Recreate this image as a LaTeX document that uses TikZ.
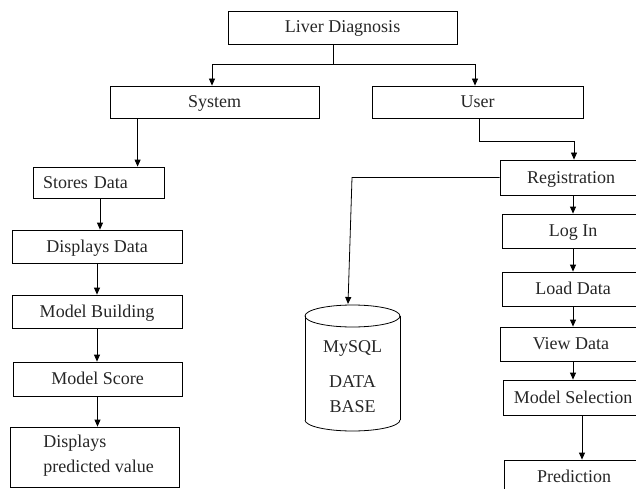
\documentclass[tikz,border=0pt]{standalone}
\usepackage{fontspec}
\setmainfont{Liberation Serif}
\usetikzlibrary{arrows.meta}
\begin{document}
\begin{tikzpicture}[x=1pt,y=-1pt, line width=0.8pt,
  lbl/.style={font=\fontsize{18}{25}\selectfont, text=black!85},
  box/.style={draw, rectangle, inner sep=0pt, lbl, text height=15pt, text depth=4pt},
  arr/.style={-{Triangle[length=7pt,width=6pt]}}]
\clip (0,0) rectangle (636,489);
\useasboundingbox (0,0) rectangle (636,489);

% top level
\node[box, minimum width=229pt, minimum height=33pt] (liver) at (342.5,27.5) {Liver Diagnosis};
\node[box, minimum width=209pt, minimum height=32pt] (sys) at (214.5,102) {System};
\node[box, minimum width=211pt, minimum height=32pt] (user) at (477.5,102) {User};

% system column
\node[box, minimum width=131pt, minimum height=31pt, text width=111pt, inner xsep=10pt, align=left] (stores) at (98.5,182.5) {Stores Data};
\node[box, minimum width=170pt, minimum height=33pt] (dispd) at (97,246.5) {Displays Data};
\node[box, minimum width=170pt, minimum height=33pt] (mbuild) at (97,311.5) {Model Building};
\node[box, minimum width=169pt, minimum height=34pt] (mscore) at (97.5,379) {Model Score};
\node[draw, rectangle, inner sep=0pt, minimum width=169pt, minimum height=60pt] (dpv) at (94.5,457) {};
\node[lbl, align=left, anchor=west, inner sep=0pt] (dpvt) at (43,455.5) {Displays\\predicted value};

% user column
\node[box, minimum width=142pt, minimum height=35pt] (reg) at (571,177.5) {Registration};
\node[box, minimum width=142pt, minimum height=34pt] (login) at (573,231) {Log In};
\node[box, minimum width=142pt, minimum height=34pt] (load) at (573,289) {Load Data};
\node[box, minimum width=142pt, minimum height=34pt] (view) at (571,344) {View Data};
\node[box, minimum width=140pt, minimum height=35pt] (msel) at (573,397.5) {Model Selection};
\node[box, minimum width=140pt, minimum height=34pt] (pred) at (574,477) {Prediction};

% database cylinder
\draw (352.5,316) ellipse [x radius=47.5pt, y radius=11pt];
\draw (305,316) -- (305,420);
\draw (400,316) -- (400,420);
\draw (305,420) arc [start angle=180, end angle=360, x radius=47.5pt, y radius=11pt];
\node[lbl, align=center, inner sep=0pt] (db) at (352.5,377) {MySQL\\[10pt]DATA\\BASE};
\coordinate (dbtop) at (348,304);

% connectors
\draw ([xshift=-9.5pt]liver.south) -- ++(0,20) coordinate (lj);
\draw[arr] (lj) -| ([xshift=-2.5pt]sys.north);
\draw[arr] (lj) -| ([xshift=-2.5pt]user.north);

\draw[arr] ([xshift=28pt]sys.south west) -- ([xshift=28pt]sys.south west |- stores.north);
\draw[arr] ([xshift=1.5pt]stores.south) -- ([xshift=1.5pt]stores.south |- dispd.north);
\draw[arr] (dispd.south) -- (dispd.south |- mbuild.north);
\draw[arr] (mbuild.south) -- (mbuild.south |- mscore.north);
\draw[arr] (mscore.south) -- (mscore.south |- dpv.north);

\draw[arr] ([xshift=1.5pt]user.south) -- ++(0,23) -| ([xshift=3pt]reg.north);
\draw[arr] (login.north |- reg.south) -- (login.north);
\draw[arr] (login.south) -- (load.north);
\draw[arr] (load.south) -- (load.south |- view.north);
\draw[arr] (msel.north |- view.south) -- (msel.north);
\draw[arr] ([xshift=9pt]msel.south) -- ([xshift=9pt]msel.south |- pred.north);

\draw[arr] (reg.west) -- (352,177.5) -- (dbtop);
\end{tikzpicture}
\end{document}
